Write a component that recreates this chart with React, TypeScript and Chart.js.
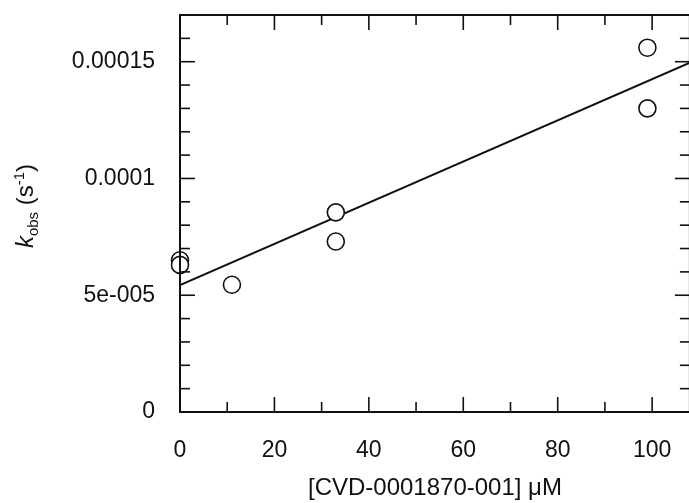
import React, { useEffect, useRef } from 'react';
import { Chart, registerables } from 'chart.js';

Chart.register(...registerables);

// ---- data ----
const concentration = [0, 0, 11, 33, 33, 99, 99];
const kObs = [6.5e-5, 6.3e-5, 5.45e-5, 8.55e-5, 7.3e-5, 1.56e-4, 1.3e-4];
const fitX = [0, 108];
const fitY = [5.43e-5, 1.496e-4];

// ---- axes ----
const xTickValues = [0, 20, 40, 60, 80, 100];
const xMinorMarks = [10, 30, 50, 70, 90];
const xMajorMarks = [20, 40, 60, 80, 100];
const yTickValues = [0, 5e-5, 1e-4, 1.5e-4];
const yTickLabels = ['0', '5e-005', '0.0001', '0.00015'];
const yMinorMarks = [1e-5, 2e-5, 3e-5, 4e-5, 6e-5, 7e-5, 8e-5, 9e-5, 1.1e-4, 1.2e-4, 1.3e-4, 1.4e-4, 1.6e-4];
const yMajorMarks = [5e-5, 1e-4, 1.5e-4];
const xTitle = '[CVD-0001870-001] μM';

const INK = '#111111';
const FONT = 'Arial, "Liberation Sans", sans-serif';

const zeroPad = (s: any) => {
  s.paddingTop = 0;
  s.paddingBottom = 0;
  s.paddingLeft = 0;
  s.paddingRight = 0;
};

const framePlugin = {
  id: 'frameTicks',
  afterDatasetsDraw(chart: any) {
    const { ctx, chartArea: a, scales } = chart;
    const x = scales.x;
    const y = scales.y;
    ctx.save();
    ctx.strokeStyle = INK;
    ctx.lineWidth = 2;
    ctx.strokeRect(a.left, a.top, a.right - a.left, a.bottom - a.top);
    ctx.lineWidth = 1.6;
    const line = (x1: number, y1: number, x2: number, y2: number) => {
      ctx.beginPath();
      ctx.moveTo(x1, y1);
      ctx.lineTo(x2, y2);
      ctx.stroke();
    };
    const MAJ = 15;
    const MIN = 10;
    xMajorMarks.forEach((v) => {
      const px = x.getPixelForValue(v);
      line(px, a.bottom, px, a.bottom - MAJ);
      line(px, a.top, px, a.top + MAJ);
    });
    xMinorMarks.forEach((v) => {
      const px = x.getPixelForValue(v);
      line(px, a.bottom, px, a.bottom - MIN);
      line(px, a.top, px, a.top + MIN);
    });
    yMajorMarks.forEach((v) => {
      const py = y.getPixelForValue(v);
      line(a.left, py, a.left + MAJ, py);
      line(a.right, py, a.right - MAJ, py);
    });
    yMinorMarks.forEach((v) => {
      const py = y.getPixelForValue(v);
      line(a.left, py, a.left + MIN, py);
      line(a.right, py, a.right - MIN, py);
    });
    ctx.restore();
  },
  afterDraw(chart: any) {
    const { ctx } = chart;
    ctx.save();
    ctx.fillStyle = INK;
    const big = `24px ${FONT}`;
    const bigItalic = `italic 24px ${FONT}`;
    const small = `15px ${FONT}`;
    const parts: { t: string; f: string; dy: number }[] = [
      { t: 'k', f: bigItalic, dy: 0 },
      { t: 'obs', f: small, dy: 5 },
      { t: ' (s', f: big, dy: 0 },
      { t: '-1', f: small, dy: -9 },
      { t: ')', f: big, dy: 0 },
    ];
    let total = 0;
    parts.forEach((p) => {
      ctx.font = p.f;
      total += ctx.measureText(p.t).width;
    });
    ctx.translate(25, 206);
    ctx.rotate(-Math.PI / 2);
    ctx.textBaseline = 'alphabetic';
    ctx.textAlign = 'left';
    let cx = -total / 2;
    parts.forEach((p) => {
      ctx.font = p.f;
      ctx.fillText(p.t, cx, 8 + p.dy);
      cx += ctx.measureText(p.t).width;
    });
    ctx.restore();
  },
};

export default function App() {
  const ref = useRef<HTMLCanvasElement | null>(null);
  useEffect(() => {
    if (!ref.current) return;
    const chart = new Chart(ref.current, {
      type: 'scatter',
      data: {
        datasets: [
          {
            type: 'scatter',
            data: concentration.map((c, i) => ({ x: c, y: kObs[i] })),
            pointStyle: 'circle',
            pointRadius: 8.5,
            pointBorderWidth: 1.6,
            pointBorderColor: INK,
            pointBackgroundColor: '#ffffff',
            clip: false,
            order: 1,
          } as any,
          {
            type: 'line',
            data: fitX.map((c, i) => ({ x: c, y: fitY[i] })),
            borderColor: INK,
            borderWidth: 2,
            pointRadius: 0,
            fill: false,
            order: 2,
          } as any,
        ],
      },
      options: {
        responsive: false,
        animation: false,
        layout: { padding: { left: 0, top: 15, right: 10, bottom: 0 } },
        plugins: {
          legend: { display: false },
          tooltip: { enabled: false },
        },
        scales: {
          x: {
            type: 'linear',
            min: 0,
            max: 108,
            grid: { display: false },
            border: { display: false },
            afterBuildTicks: (s: any) => {
              s.ticks = xTickValues.map((v) => ({ value: v }));
            },
            afterFit: (s: any) => {
              s.height = 91;
              zeroPad(s);
            },
            ticks: {
              color: INK,
              font: { family: FONT, size: 23 },
              padding: 17,
              maxRotation: 0,
              autoSkip: false,
              callback: (v: any) => String(v),
            },
            title: {
              display: true,
              text: xTitle,
              color: INK,
              font: { family: FONT, size: 24 },
              padding: { top: 0, bottom: 0 },
            },
          },
          y: {
            type: 'linear',
            min: 0,
            max: 1.7e-4,
            grid: { display: false },
            border: { display: false },
            afterBuildTicks: (s: any) => {
              s.ticks = yTickValues.map((v) => ({ value: v }));
            },
            afterFit: (s: any) => {
              s.width = 180;
              zeroPad(s);
            },
            ticks: {
              color: INK,
              font: { family: FONT, size: 23 },
              padding: 17,
              autoSkip: false,
              callback: (v: any) => {
                const i = yTickValues.findIndex((t) => Math.abs(t - v) < 1e-9);
                return i >= 0 ? yTickLabels[i] : '';
              },
            },
          },
        },
      },
      plugins: [framePlugin],
    } as any);
    return () => chart.destroy();
  }, []);
  return (
    <div
      style={{
        position: 'absolute',
        left: 0,
        top: 0,
        width: 689,
        height: 503,
        overflow: 'hidden',
        background: '#ffffff',
      }}
    >
      <canvas ref={ref} width={700} height={503} style={{ width: 700, height: 503, display: 'block' }} />
    </div>
  );
}
